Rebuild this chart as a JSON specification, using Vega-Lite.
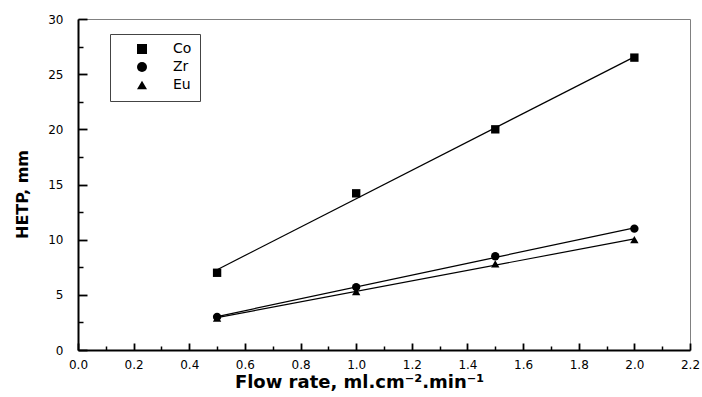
{
  "$schema": "https://vega.github.io/schema/vega-lite/v6.json",
  "width": 612,
  "height": 331,
  "autosize": {"type": "none"},
  "padding": {"left": 78, "top": 19, "right": 12, "bottom": 47},
  "config": {
    "view": {"stroke": "#808080", "strokeWidth": 1},
    "font": "DejaVu Sans"
  },
  "data": {
    "values": [
      {"metal": "Co", "flow": 0.5, "HETP": 7.0},
      {"metal": "Co", "flow": 1.0, "HETP": 14.2},
      {"metal": "Co", "flow": 1.5, "HETP": 20.0},
      {"metal": "Co", "flow": 2.0, "HETP": 26.5},
      {"metal": "Zr", "flow": 0.5, "HETP": 3.0},
      {"metal": "Zr", "flow": 1.0, "HETP": 5.7},
      {"metal": "Zr", "flow": 1.5, "HETP": 8.5},
      {"metal": "Zr", "flow": 2.0, "HETP": 11.0},
      {"metal": "Eu", "flow": 0.5, "HETP": 2.9},
      {"metal": "Eu", "flow": 1.0, "HETP": 5.3},
      {"metal": "Eu", "flow": 1.5, "HETP": 7.8},
      {"metal": "Eu", "flow": 2.0, "HETP": 10.0}
    ]
  },
  "resolve": {"axis": {"x": "independent", "y": "independent"}},
  "layer": [
    {
      "transform": [
        {"regression": "HETP", "on": "flow", "groupby": ["metal"], "extent": [0.5, 2.0]}
      ],
      "mark": {"type": "line", "color": "black", "strokeWidth": 1.2},
      "encoding": {
        "x": {
          "field": "flow",
          "type": "quantitative",
          "scale": {"domain": [0, 2.2], "nice": false, "zero": false},
          "axis": {
            "orient": "bottom",
            "values": [0, 0.2, 0.4, 0.6, 0.8, 1.0, 1.2, 1.4, 1.6, 1.8, 2.0, 2.2],
            "format": ".1f",
            "tickSize": -7,
            "grid": false,
            "domainColor": "black",
            "domainWidth": 2,
            "tickColor": "black",
            "tickWidth": 1.8,
            "labelColor": "black",
            "labelFontSize": 12,
            "labelPadding": 16,
            "labelFlush": false,
            "title": "Flow rate, ml.cm⁻².min⁻¹",
            "titleFontSize": 18,
            "titleFontWeight": "bold",
            "titleColor": "black",
            "titlePadding": 3,
            "titleX": 281,
            "titleAlign": "center"
          }
        },
        "y": {
          "field": "HETP",
          "type": "quantitative",
          "scale": {"domain": [0, 30], "nice": false},
          "axis": {
            "orient": "left",
            "values": [0, 5, 10, 15, 20, 25, 30],
            "format": "d",
            "tickSize": -9,
            "grid": false,
            "domainColor": "black",
            "domainWidth": 2,
            "tickColor": "black",
            "tickWidth": 1.8,
            "labelColor": "black",
            "labelFontSize": 12,
            "labelPadding": 24,
            "labelFlush": false,
            "title": "HETP, mm",
            "titleFontSize": 16,
            "titleFontWeight": "bold",
            "titleColor": "black",
            "titlePadding": 17,
            "titleY": 175,
            "titleAlign": "center"
          }
        },
        "detail": {"field": "metal"}
      }
    },
    {
      "mark": {"type": "point", "filled": true, "color": "black", "opacity": 1, "size": 70},
      "encoding": {
        "x": {
          "field": "flow",
          "type": "quantitative",
          "axis": {
            "orient": "bottom",
            "values": [0.1, 0.3, 0.5, 0.7, 0.9, 1.1, 1.3, 1.5, 1.7, 1.9, 2.1],
            "labels": false,
            "domain": false,
            "grid": false,
            "tickSize": -4,
            "tickColor": "black",
            "tickWidth": 1.5,
            "title": null,
            "offset": 0
          }
        },
        "y": {
          "field": "HETP",
          "type": "quantitative",
          "axis": {
            "orient": "left",
            "values": [2.5, 7.5, 12.5, 17.5, 22.5, 27.5],
            "labels": false,
            "domain": false,
            "grid": false,
            "tickSize": -5,
            "tickColor": "black",
            "tickWidth": 1.5,
            "title": null,
            "offset": 0
          }
        },
        "shape": {
          "field": "metal",
          "type": "nominal",
          "scale": {"domain": ["Co", "Zr", "Eu"], "range": ["square", "circle", "triangle-up"]},
          "legend": {
            "title": null,
            "orient": "none",
            "legendX": 32,
            "legendY": 15,
            "strokeColor": "#444",
            "padding": 8,
            "symbolSize": 100,
            "symbolFillColor": "black",
            "symbolStrokeColor": "black",
            "symbolOffset": 17,
            "labelOffset": 24,
            "labelFontSize": 14,
            "labelColor": "black",
            "rowPadding": 2,
            "symbolType": "square"
          }
        }
      }
    }
  ]
}
